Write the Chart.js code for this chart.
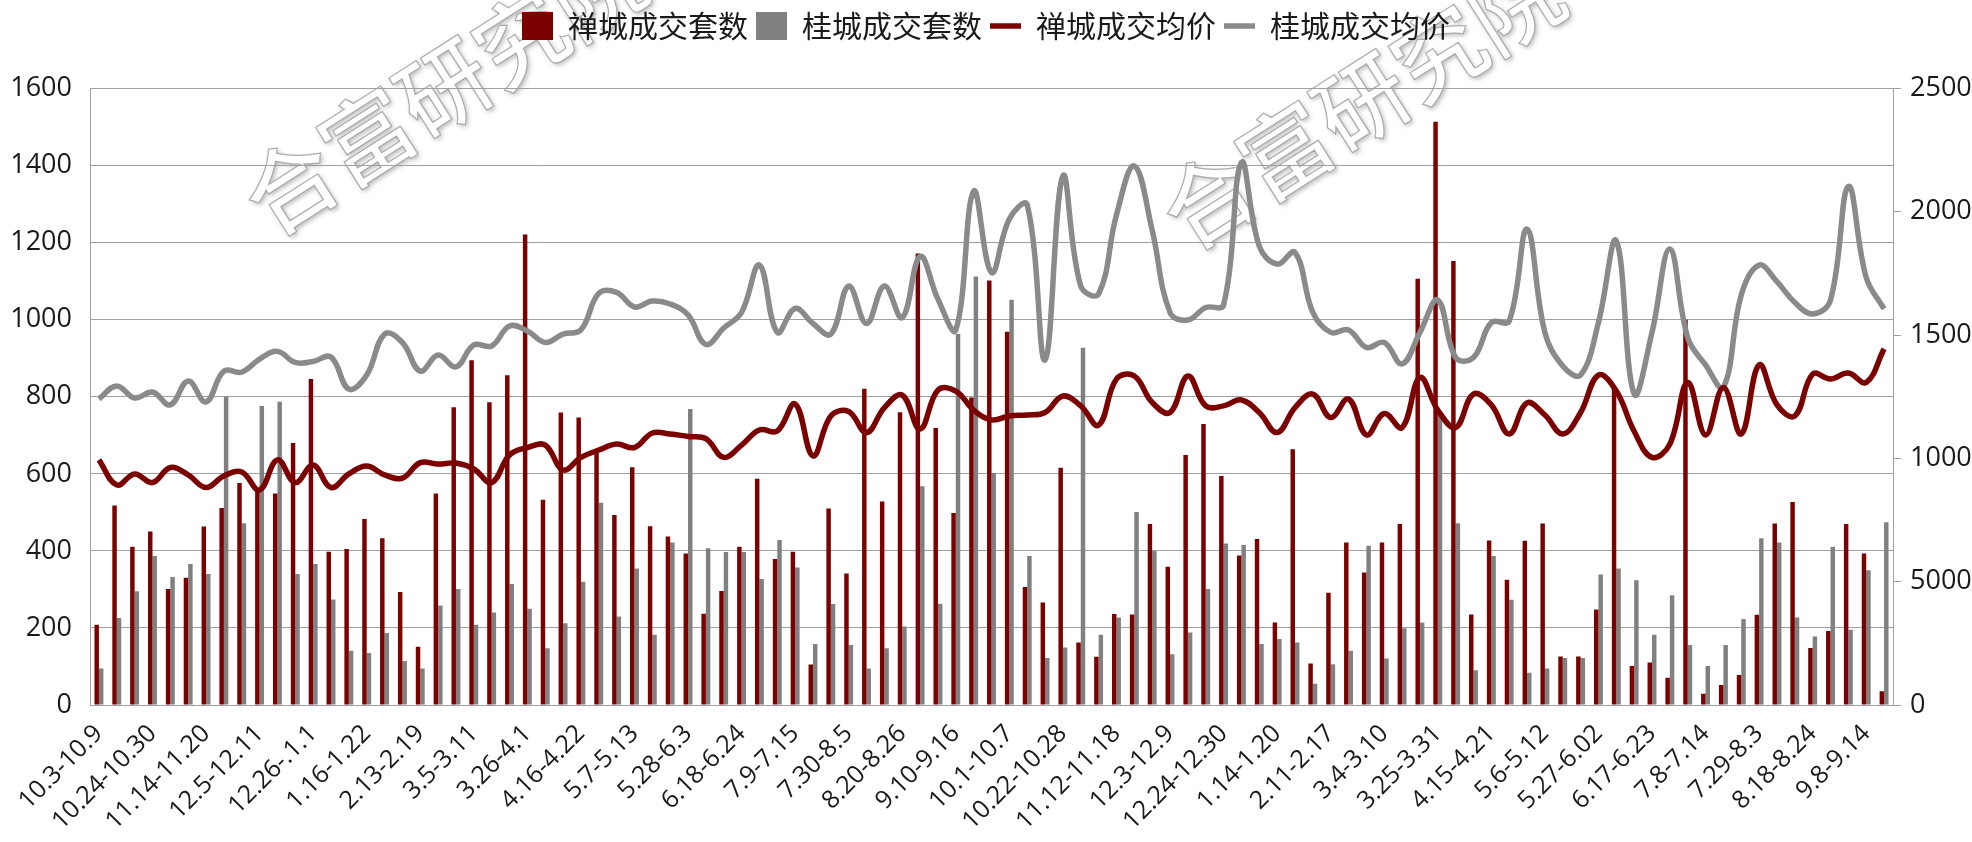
<!DOCTYPE html>
<html>
<head>
<meta charset="utf-8">
<title>禅城 / 桂城 成交</title>
<script src="https://cdn.jsdelivr.net/npm/chart.js@4/dist/chart.umd.min.js"></script>
<style>
  html, body { margin: 0; padding: 0; background: #fff; }
  #wrap { width: 1972px; height: 842px; position: relative; }
</style>
</head>
<body>
<div id="wrap"><canvas id="deals"></canvas></div>
<script>
/* ===== Data ===== */
const weeks = [
  '10.3-10.9','10.10-10.16','10.17-10.23','10.24-10.30','10.31-11.6','11.7-11.13','11.14-11.20','11.21-11.27','11.28-12.4','12.5-12.11',
  '12.12-12.18','12.19-12.25','12.26-.1.1','1.2-1.8','1.9-1.15','1.16-1.22','1.23-2.5','2.6-2.12','2.13-2.19','2.20-2.26',
  '2.27-3.4','3.5-3.11','3.12-3.18','3.19-3.25','3.26-4.1','4.2-4.8','4.9-4.15','4.16-4.22','4.23-4.29','4.30-5.6',
  '5.7-5.13','5.14-5.20','5.21-5.27','5.28-6.3','6.4-6.10','6.11-6.17','6.18-6.24','6.25-7.1','7.2-7.8','7.9-7.15',
  '7.16-7.22','7.23-7.29','7.30-8.5','8.6-8.12','8.13-8.19','8.20-8.26','8.27-9.2','9.3-9.9','9.10-9.16','9.17-9.23',
  '9.24-9.30','10.1-10.7','10.8-10.14','10.15-10.21','10.22-10.28','10.29-11.4','11.5-11.11','11.12-11.18','11.19-11.25','11.26-12.2',
  '12.3-12.9','12.10-12.16','12.17-12.23','12.24-12.30','12.31-1.6','1.7-1.13','1.14-1.20','1.21-1.27','1.28-2.10','2.11-2.17',
  '2.18-2.24','2.25-3.3','3.4-3.10','3.11-3.17','3.18-3.24','3.25-3.31','4.1-4.7','4.8-4.14','4.15-4.21','4.22-4.28',
  '4.29-5.5','5.6-5.12','5.13-5.19','5.20-5.26','5.27-6.02','6.3-6.9','6.10-6.16','6.17-6.23','6.24-6.30','7.1-7.7',
  '7.8-7.14','7.15-7.21','7.22-7.28','7.29-8.3','8.4-8.10','8.11-8.17','8.18-8.24','8.25-8.31','9.1-9.7','9.8-9.14',
  '9.15-9.21'
];

// 禅城成交套数 (left axis)
const chanCount = [
  208,518,411,450,301,330,463,511,576,555,
  549,680,846,398,405,483,433,293,151,549,
  773,895,786,856,1221,533,759,746,654,493,
  617,464,437,393,237,296,411,587,379,398,
  105,510,341,821,528,760,1172,719,498,798,
  1102,969,306,266,616,162,125,236,235,470,
  359,649,729,594,388,431,214,664,108,291,
  422,344,422,470,1106,1514,1152,235,427,325,
  426,471,126,126,248,824,101,110,71,1000,
  29,52,78,234,471,527,148,192,470,393,
  36
];

// 桂城成交套数 (left axis)
const guiCount = [
  95,226,295,387,332,366,340,800,472,776,
  787,340,366,274,141,135,187,114,95,258,
  301,208,240,314,250,147,212,320,525,230,
  354,182,422,768,407,397,397,327,428,357,
  158,262,156,95,147,204,568,263,963,1112,
  602,1052,387,122,149,927,182,227,501,400,
  132,188,301,419,415,158,171,162,55,106,
  141,413,121,199,214,761,472,90,387,273,
  84,95,122,122,339,354,324,182,285,156,
  101,156,223,433,422,227,178,411,195,350,
  474
];

// 禅城成交均价 (right axis)
const chanPrice = [
  994,892,937,902,963,933,882,929,945,872,
  994,902,973,882,937,969,933,920,983,977,
  981,957,902,1014,1044,1054,953,1004,1034,1058,
  1044,1103,1099,1089,1080,1004,1054,1115,1111,1221,
  1010,1172,1190,1105,1206,1257,1119,1277,1273,1196,
  1156,1172,1176,1186,1253,1213,1135,1322,1334,1227,
  1186,1334,1213,1213,1237,1186,1105,1206,1261,1166,
  1241,1095,1182,1125,1328,1196,1125,1261,1217,1099,
  1225,1176,1099,1186,1338,1273,1110,1004,1058,1308,
  1095,1288,1099,1379,1217,1172,1342,1322,1346,1308,
  1444
];

// 桂城成交均价 (right axis)
const guiPrice = [
  1241,1294,1245,1269,1217,1314,1229,1354,1350,1403,
  1434,1389,1393,1411,1281,1338,1504,1470,1354,1419,
  1371,1460,1456,1537,1517,1470,1504,1521,1669,1673,
  1614,1638,1626,1582,1462,1529,1592,1784,1511,1608,
  1547,1504,1699,1547,1699,1571,1819,1646,1521,2084,
  1754,1971,2028,1399,2145,1699,1667,1987,2186,1926,
  1592,1561,1612,1622,2200,1861,1788,1835,1592,1511,
  1521,1450,1470,1383,1511,1642,1409,1409,1551,1557,
  1930,1511,1375,1338,1551,1882,1261,1511,1849,1490,
  1379,1288,1663,1784,1717,1632,1586,1642,2103,1734,
  1606
];

// right axis shows "5000" at the 500 mark in the original
const rightTickText = { 500: '5000' };

/* ===== Style ===== */
const RED  = '#7b0000';
const GREY = '#808080';
const GREY_LINE = '#8a8a8a';
const GRID = '#a0a0a0';
const NUM_FONT = '"Open Sans", "DejaVu Sans", sans-serif';
const CJK_FONT = '"Noto Sans CJK SC", "Noto Sans", sans-serif';

/* ===== Watermark (behind everything) ===== */
const watermark = {
  id: 'watermark',
  beforeDraw(chart){
    const ctx = chart.ctx;
    [[252, 210], [1170, 224]].forEach(([x, y]) => {
      ctx.save();
      ctx.translate(x, y);
      ctx.rotate(-32.5 * Math.PI / 180);
      ctx.font = '500 91px ' + CJK_FONT;
      ctx.textBaseline = 'middle';
      ctx.shadowColor = 'rgba(0,0,0,0.28)';
      ctx.shadowBlur = 5;
      ctx.shadowOffsetX = 2;
      ctx.shadowOffsetY = 2;
      ctx.fillStyle = '#fff';
      ctx.fillText('合富研究院', 0, 0);
      ctx.shadowColor = 'transparent';
      ctx.strokeStyle = 'rgba(160,160,160,0.85)';
      ctx.lineWidth = 1.2;
      ctx.strokeText('合富研究院', 0, 0);
      ctx.restore();
    });
  }
};

/* ===== Chart ===== */
Chart.defaults.color = '#1a1a1a';

new Chart(document.getElementById('deals'), {
  type: 'bar',
  data: {
    labels: weeks,
    datasets: [
      { label: '禅城成交套数', data: chanCount, backgroundColor: RED,  yAxisID: 'y',  order: 1, pointStyle: 'rect',
        categoryPercentage: 0.5, barPercentage: 1.0 },
      { label: '桂城成交套数', data: guiCount,  backgroundColor: GREY, yAxisID: 'y',  order: 1, pointStyle: 'rect',
        categoryPercentage: 0.5, barPercentage: 1.0 },
      { type: 'line', label: '禅城成交均价', data: chanPrice, borderColor: RED, backgroundColor: RED,
        borderWidth: 5.5, pointRadius: 0, pointStyle: 'line', tension: 0.4, yAxisID: 'y1', order: 0 },
      { type: 'line', label: '桂城成交均价', data: guiPrice, borderColor: GREY_LINE, backgroundColor: GREY_LINE,
        borderWidth: 5.5, pointRadius: 0, pointStyle: 'line', tension: 0.4, yAxisID: 'y1', order: 0 }
    ]
  },
  options: {
    responsive: true,
    maintainAspectRatio: false,
    animation: false,
    layout: { padding: { top: 3, left: 0, right: 0, bottom: 0 } },
    plugins: {
      legend: {
        position: 'top',
        labels: {
          usePointStyle: true,
          pointStyleWidth: 31,
          boxHeight: 28,
          padding: 8,
          color: '#1a1a1a',
          font: { family: CJK_FONT, size: 30 },
          sort: (a, b) => a.datasetIndex - b.datasetIndex
        }
      },
      // empty title used only as a spacer between legend and plot
      title: { display: true, text: '', weight: 500, font: { size: 10, lineHeight: 1 }, padding: { top: 0, bottom: 27.5 } },
      tooltip: { enabled: false }
    },
    scales: {
      x: {
        grid: { display: false },
        border: { display: true, color: GRID },
        ticks: {
          autoSkip: false, minRotation: 45, maxRotation: 45, padding: 6,
          font: { family: NUM_FONT, size: 25 }, color: '#1a1a1a',
          callback: (v, i) => (i % 3 === 0 ? weeks[i] : '')
        },
        afterFit: s => { s.height = 137; }
      },
      y: {
        position: 'left', min: 0, max: 1600,
        grid: { color: GRID, drawTicks: false },
        border: { display: true, color: GRID },
        ticks: { stepSize: 200, padding: 18, font: { family: NUM_FONT, size: 27 }, color: '#1a1a1a',
          callback: v => String(v) },
        afterFit: s => { s.width = 90; }
      },
      y1: {
        position: 'right', min: 0, max: 2500,
        grid: { drawOnChartArea: false, drawTicks: true, tickLength: 8, color: GRID },
        border: { display: true, color: GRID },
        ticks: { stepSize: 500, padding: 9, font: { family: NUM_FONT, size: 27 }, color: '#1a1a1a',
          callback: v => rightTickText[v] || String(v) },
        afterFit: s => { s.width = 79; }
      }
    }
  },
  plugins: [watermark]
});
</script>
</body>
</html>
